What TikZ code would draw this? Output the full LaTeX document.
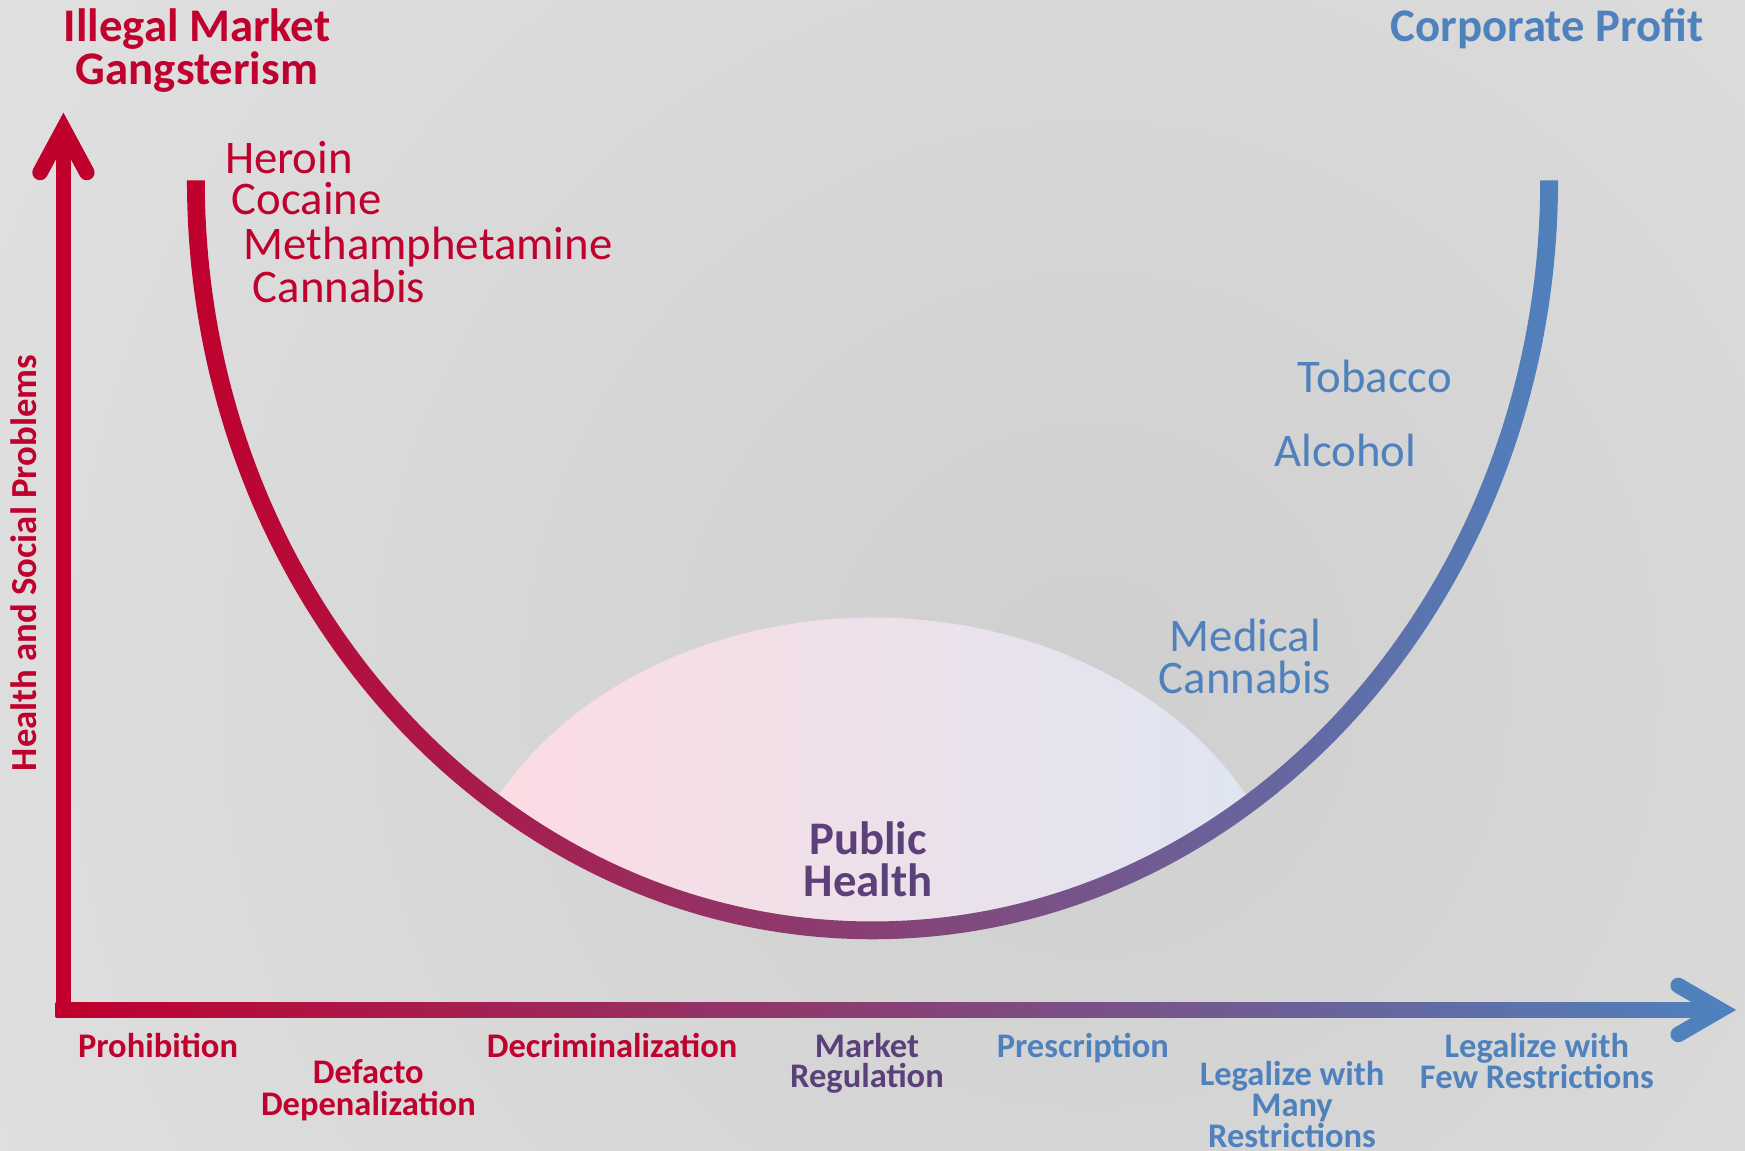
\documentclass[tikz,border=0pt]{standalone}
\usepackage{fontspec}
\setmainfont{Carlito}
\definecolor{dred}{RGB}{192,0,45}
\definecolor{dblue}{RGB}{79,129,189}
\definecolor{dpurple}{RGB}{92,64,122}
\definecolor{bgin}{RGB}{207,207,207}
\definecolor{bgout}{RGB}{238,238,238}
\definecolor{domeL}{RGB}{255,219,226}
\definecolor{domeR}{RGB}{220,230,242}
\tikzset{
  title/.style={font=\bfseries\fontsize{42}{42}\selectfont, inner sep=0pt, anchor=base},
  drug/.style={font=\fontsize{42}{42}\selectfont, inner sep=0pt, anchor=base west},
  lab/.style={font=\bfseries\fontsize{31}{28}\selectfont, inner sep=0pt, anchor=base},
  chev/.style={line width=14pt, line cap=round, line join=miter}
}
\begin{document}
\begin{tikzpicture}[x=1pt,y=1pt]
\useasboundingbox (0,0) rectangle (1568,1034);
% background
\begin{scope}
\clip (0,0) rectangle (1568,1034);
\fill[bgout] (0,0) rectangle (1568,1034);
\shade[inner color=bgin, outer color=bgout] (980,414) circle (2100);
\end{scope}
% public health dome
\begin{scope}
\clip (184,872) arc[start angle=180, end angle=360, x radius=600, y radius=666] -- cycle;
\shade[left color=domeL, right color=domeR] (784,174) ellipse[x radius=382, y radius=305];
\end{scope}
% U curve
\shade[left color=dred, right color=dblue] (168,872) arc[start angle=180, end angle=360, x radius=616, y radius=682] -- (1384,872) arc[start angle=360, end angle=180, x radius=600, y radius=666] -- cycle;
% axes
\coordinate (O) at (50,120);
\coordinate (ytop) at (64,915);
\coordinate (xend) at (1546,133);
\fill[dred] (O) rectangle (ytop);
\draw[chev, dred] (36,879) -- (57,918) -- (78,879);
\shade[left color=dred, right color=dblue] (O) rectangle (xend);
\draw[chev, dblue] (1508,148.5) -- (1546,126.5) -- (1508,104.5);
% titles
\node[title, text=dred] (ill1) at (177,997) {Illegal Market};
\node[title, text=dred] (ill2) at (177,958) {Gangsterism};
\node[title, text=dblue, anchor=base east] (corp) at (1531,997) {Corporate Profit};
\node[font=\bfseries\fontsize{33}{33}\selectfont, text=dred, rotate=90, anchor=base, inner sep=0pt] (ylab) at (33,528) {Health and Social Problems};
% drugs
\node[drug, text=dred] (her) at (202,878) {Heroin};
\node[drug, text=dred] (coc) at (208,841) {Cocaine};
\node[drug, text=dred] (meth) at (219,801) {Methamphetamine};
\node[drug, text=dred] (can) at (227,762) {Cannabis};
\node[drug, text=dblue] (tob) at (1166,681) {Tobacco};
\node[drug, text=dblue] (alc) at (1145,615) {Alcohol};
\node[drug, text=dblue] (med1) at (1051,449) {Medical};
\node[drug, text=dblue] (med2) at (1041,411) {Cannabis};
\node[title, text=dpurple] (ph1) at (780,266) {Public};
\node[title, text=dpurple] (ph2) at (780,228) {Health};
% bottom labels
\node[lab, text=dred] (l1) at (142,84) {Prohibition};
\node[lab, text=dred] (l2a) at (331,60) {Defacto};
\node[lab, text=dred] (l2b) at (331,32) {Depenalization};
\node[lab, text=dred] (l3) at (550,84) {Decriminalization};
\node[lab, text=dpurple] (l4a) at (779,84) {Market};
\node[lab, text=dpurple] (l4b) at (779,57) {Regulation};
\node[lab, text=dblue] (l5) at (973,84) {Prescription};
\node[lab, text=dblue] (l6a) at (1161,59) {Legalize with};
\node[lab, text=dblue] (l6b) at (1161,31) {Many};
\node[lab, text=dblue] (l6c) at (1161,3) {Restrictions};
\node[lab, text=dblue] (l7a) at (1381,84) {Legalize with};
\node[lab, text=dblue] (l7b) at (1381,56) {Few Restrictions};
\end{tikzpicture}
\end{document}
